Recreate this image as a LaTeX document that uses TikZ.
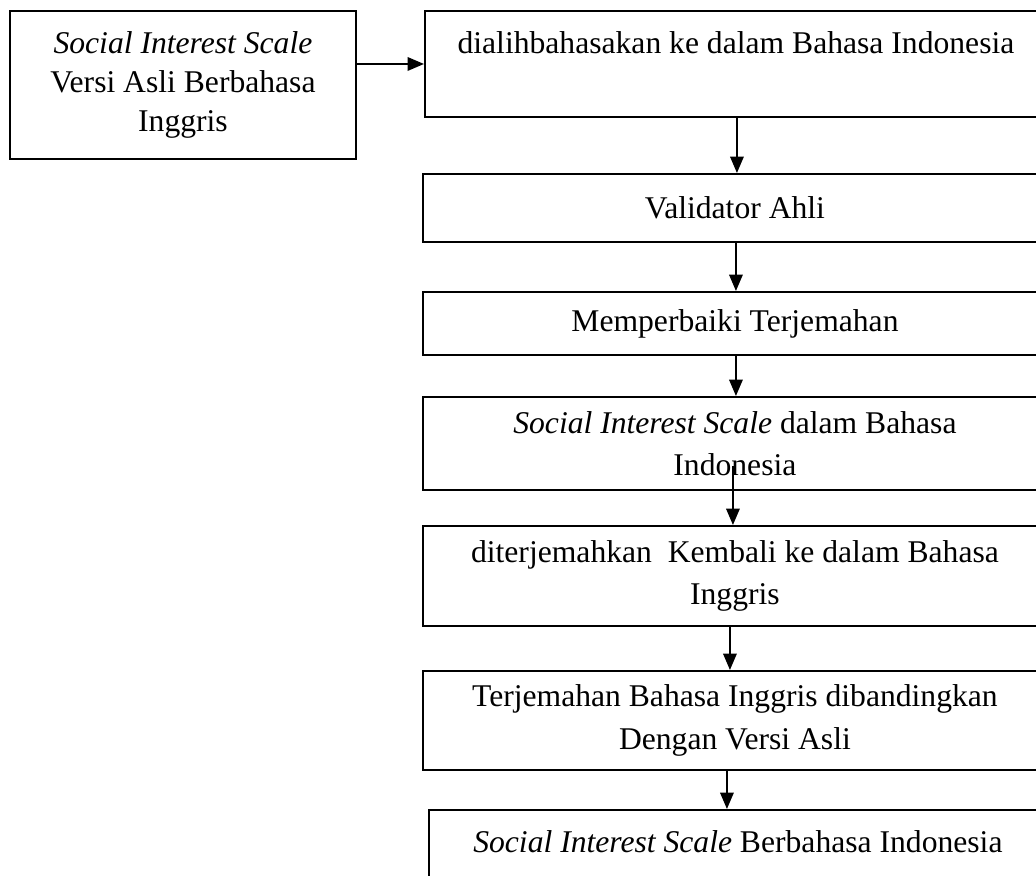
\documentclass[tikz,border=0pt]{standalone}
\usepackage{fontspec}
\setmainfont{Liberation Serif}
\usetikzlibrary{arrows.meta}
\begin{document}
\begin{tikzpicture}[x=0.02cm,y=-0.02cm,line join=miter,>={Triangle[length=0.33cm,width=0.27cm]},
	kotak/.style={draw,line width=0.04cm,anchor=north west,align=center,inner sep=0pt,font=\fontsize{18}{24}\selectfont},
	panah/.style={->,line width=0.04cm}]
	\useasboundingbox (0,0) rectangle (1036,876);
	\clip (0,0) rectangle (1036,876);
	\node[kotak,minimum width=6.92cm,minimum height=2.96cm,font=\fontsize{18}{22}\selectfont] (asli) at (9,10) {\textit{Social Interest Scale}\\Versi Asli Berbahasa\\Inggris};
	\node[kotak,minimum width=12.44cm,minimum height=2.12cm] (alih) at (424,10) {dialihbahasakan ke dalam Bahasa Indonesia\\ \mbox{}};
	\node[kotak,minimum width=12.48cm,minimum height=1.36cm] (validator) at (422,173) {Validator Ahli};
	\node[kotak,minimum width=12.48cm,minimum height=1.26cm] (perbaiki) at (422,291) {Memperbaiki Terjemahan};
	\node[kotak,minimum width=12.48cm,minimum height=1.86cm] (sisindo) at (422,396) {\textit{Social Interest Scale} dalam Bahasa\\Indonesia};
	\node[kotak,minimum width=12.48cm,minimum height=2cm] (balik) at (422,525) {diterjemahkan\ \ Kembali ke dalam Bahasa\\Inggris};
	\node[kotak,minimum width=12.48cm,minimum height=1.98cm] (banding) at (422,670) {Terjemahan Bahasa Inggris dibandingkan\\Dengan Versi Asli};
	\node[kotak,minimum width=12.36cm,minimum height=2.1cm] (akhir) at (428,809) {\textit{Social Interest Scale} Berbahasa Indonesia\\ \mbox{}};
	\draw[panah] (asli.east |- alih.west) -- (alih.west);
	\draw[panah] ([xshift=0.02cm]alih.south) -- ([xshift=0.02cm]alih.south |- validator.north);
	\draw[panah] ([xshift=0.02cm]validator.south) -- ([xshift=0.02cm]perbaiki.north);
	\draw[panah] ([xshift=0.02cm]perbaiki.south) -- ([xshift=0.02cm]sisindo.north);
	\draw[panah] ([xshift=-0.04cm,yshift=0.5cm]sisindo.south) -- ([xshift=-0.04cm]balik.north);
	\draw[panah] ([xshift=-0.1cm]balik.south) -- ([xshift=-0.1cm]banding.north);
	\draw[panah] ([xshift=-0.16cm]banding.south) -- ([xshift=-0.16cm]banding.south |- akhir.north);
\end{tikzpicture}
\end{document}
